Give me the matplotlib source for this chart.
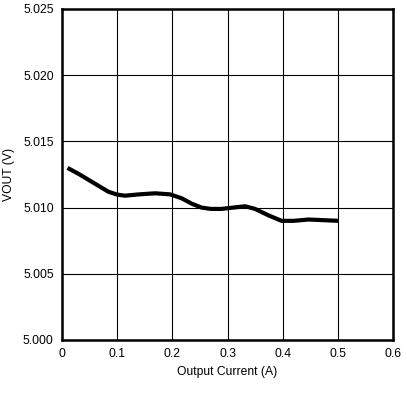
import matplotlib
matplotlib.use("Agg")
import matplotlib.pyplot as plt

plt.rcParams['font.family'] = ['Liberation Sans', 'DejaVu Sans']

current = [0.01, 0.03, 0.048, 0.066, 0.084, 0.1, 0.114, 0.14, 0.169, 0.196, 0.217, 0.235, 0.253, 0.27, 0.289, 0.31, 0.332, 0.35, 0.375, 0.398, 0.42, 0.447, 0.501]
vout = [5.0130, 5.01255, 5.0121, 5.01165, 5.0112, 5.01098, 5.0109, 5.0110, 5.01108, 5.0110, 5.0107, 5.0103, 5.0100, 5.0099, 5.0099, 5.0100, 5.0101, 5.0099, 5.0094, 5.0090, 5.0090, 5.0091, 5.0090]

xticks = [0, 0.1, 0.2, 0.3, 0.4, 0.5, 0.6]
xticklabels = ["0", "0.1", "0.2", "0.3", "0.4", "0.5", "0.6"]
yticks = [5.000, 5.005, 5.010, 5.015, 5.020, 5.025]
yticklabels = ["5.000", "5.005", "5.010", "5.015", "5.020", "5.025"]

fig = plt.figure(figsize=(4.07, 4.01), dpi=100)
ax = fig.add_axes([62/407, 1-340/401, (393-62)/407, (340-9)/401])
ax.plot(current, vout, color='black', linewidth=3, solid_capstyle='butt', solid_joinstyle='round')
ax.set_xlim(0, 0.6)
ax.set_ylim(5.000, 5.025)
ax.set_xticks(xticks)
ax.set_xticklabels(xticklabels)
ax.set_yticks(yticks)
ax.set_yticklabels(yticklabels)
ax.grid(True, color='black', linewidth=0.8)
ax.tick_params(length=0, labelsize=8.7, pad=6)
for s in ax.spines.values():
    s.set_linewidth(1.8)
ax.set_xlabel("Output Current (A)", fontsize=8.7, labelpad=4)
ax.set_ylabel("VOUT (V)", fontsize=8.7, labelpad=6)
fig.savefig("out.png", dpi=100)
